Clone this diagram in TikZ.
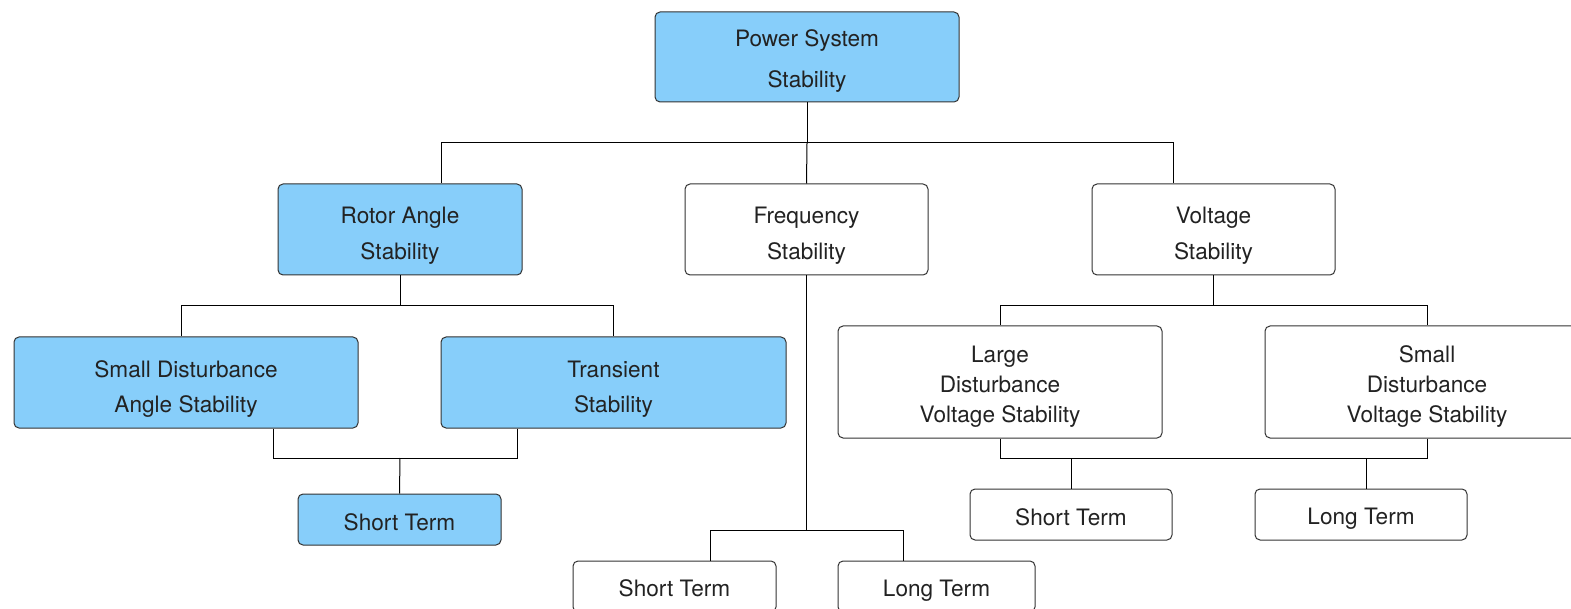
\documentclass[tikz,border=0pt]{standalone}
\usepackage{fontspec}
\setmainfont{TeX Gyre Heros}
\definecolor{skyfill}{HTML}{87CEFA}
\definecolor{edgegray}{HTML}{333333}
\definecolor{txtgray}{HTML}{222222}
\begin{document}
\begin{tikzpicture}[x=1pt,y=-1pt,
  box/.style={draw=edgegray, line width=1pt, rounded corners=5pt, inner sep=0pt, anchor=center},
  hot/.style={box, fill=skyfill},
  cold/.style={box, fill=white},
  txt/.style={inner sep=0pt, align=center, text=txtgray, text depth=5pt,
    font=\fontsize{22.6}{#1}\selectfont},
  link/.style={draw=black, line width=1pt}]
\clip (0,0) rectangle (1571,609);
\fill[white] (0,0) rectangle (1571,609);

% boxes: top level
\node[hot, minimum width=304, minimum height=90] (ps) at (807,57) {};

% second level
\node[hot,  minimum width=244, minimum height=91] (ra) at (400,229.5) {};
\node[cold, minimum width=243, minimum height=91] (fs) at (806.5,229.5) {};
\node[cold, minimum width=243, minimum height=91] (vs) at (1213.5,229.5) {};

% rotor angle branch
\node[hot, minimum width=344, minimum height=91] (sda) at (186,382.5) {};
\node[hot, minimum width=345, minimum height=91] (ts) at (613.5,382.5) {};
\node[hot, minimum width=203, minimum height=51] (st1) at (399.5,519.5) {};

% voltage branch
\node[cold, minimum width=324, minimum height=112] (ldv) at (1000,382) {};
\node[cold, minimum width=324, minimum height=112] (sdv) at (1427,382) {};
\node[cold, minimum width=202, minimum height=51] (st2) at (1071,514.5) {};
\node[cold, minimum width=212, minimum height=51] (lt2) at (1361,514.5) {};

% frequency branch
\node[cold, minimum width=203, minimum height=51] (st3) at (674.5,586.5) {};
\node[cold, minimum width=197, minimum height=51] (lt3) at (936.5,586.5) {};

% box labels
\node[txt=41] (ps-t)  at ([yshift=-4.5]ps.center)  {Power System\\Stability};
\node[txt=36] (ra-t)  at ([yshift=-6]ra.center)    {Rotor Angle\\Stability};
\node[txt=36] (fs-t)  at ([yshift=-6.5]fs.center)  {Frequency\\Stability};
\node[txt=36] (vs-t)  at ([yshift=-6]vs.center)    {Voltage\\Stability};
\node[txt=35] (sda-t) at ([yshift=-6.5]sda.center) {Small Disturbance\\Angle Stability};
\node[txt=35] (ts-t)  at ([yshift=-6.5]ts.center)  {Transient\\Stability};
\node[txt=26] (st1-t) at ([yshift=-5.5]st1.center) {Short Term};
\node[txt=30] (ldv-t) at ([yshift=-4.5]ldv.center) {Large\\Disturbance\\Voltage Stability};
\node[txt=30] (sdv-t) at ([yshift=-4.5]sdv.center) {Small\\Disturbance\\Voltage Stability};
\node[txt=26] (st2-t) at ([yshift=-5.5]st2.center) {Short Term};
\node[txt=26] (lt2-t) at ([yshift=-4]lt2.center)   {Long Term};
\node[txt=26] (st3-t) at ([yshift=-4.5]st3.center) {Short Term};
\node[txt=26] (lt3-t) at ([yshift=-4]lt3.center)   {Long Term};

% junction points
\coordinate (j1) at (807,143);
\coordinate (j2) at (400,306);
\coordinate (j3) at (400,458);
\coordinate (j4) at (806.5,530);
\coordinate (j5) at (1213.5,306);
\coordinate (j6) at (1213.5,458);

% connectors from the top
\draw[link] (ps.south) -- (j1);
\draw[link] (j1) -| ([xshift=41]ra.north);
\draw[link] (j1) -| ([xshift=-40.5]vs.north);
\draw[link] (j1) -- (fs.north);

% rotor angle connectors
\draw[link] (ra.south) -- (j2);
\draw[link] (j2) -| ([xshift=-5]sda.north);
\draw[link] (j2) -| (ts.north);
\draw[link] ([xshift=87]sda.south) |- (j3);
\draw[link] ([xshift=-96.5]ts.south) |- (j3);
\draw[link] (j3) -- (st1.north);

% frequency connectors
\draw[link] (fs.south) -- (j4);
\draw[link] (j4) -| ([xshift=35.5]st3.north);
\draw[link] (j4) -| ([xshift=-33.5]lt3.north);

% voltage connectors
\draw[link] (vs.south) -- (j5);
\draw[link] (j5) -| (ldv.north);
\draw[link] (j5) -| (sdv.north);
\draw[link] (ldv.south) |- (j6);
\draw[link] (sdv.south) |- (j6);
\draw[link] (st2.north) -- (st2.north |- j6);
\draw[link] ([xshift=5]lt2.north) -- ([xshift=5]lt2.north |- j6);
\end{tikzpicture}
\end{document}
